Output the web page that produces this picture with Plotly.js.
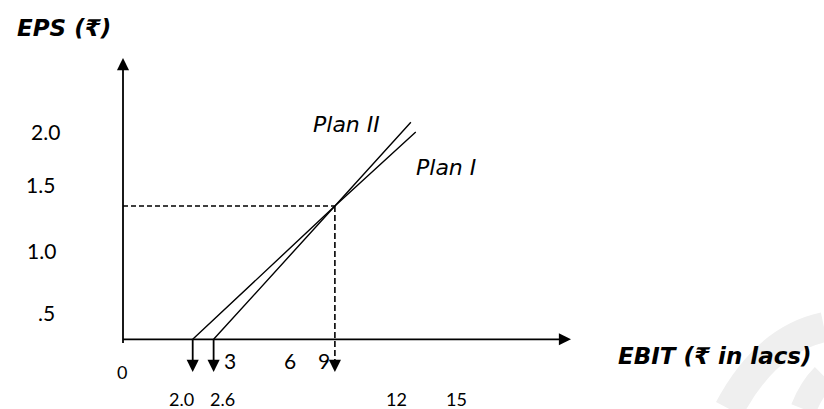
<!DOCTYPE html>
<html><head><meta charset="utf-8">
<script src="https://cdn.plot.ly/plotly-3.0.1.min.js"></script>
<style>html,body{margin:0;padding:0;background:#fff}#chart{width:824px;height:409px}</style>
</head><body><div id="chart"></div>
<script>
// ---- data ----
const planII_ebit = [2.0, 6.08, 8.26];
const planII_eps  = [0.0, 1.35, 2.20];
const planI_ebit  = [2.6, 6.08, 8.40];
const planI_eps   = [0.0, 1.35, 2.10];
const indiffEbit = 6.08;
const indiffEps  = 1.35;
const yTickLabels = ['2.0', '1.5', '1.0', '.5'];
const xTickLabelsTop = ['3', '6', '9'];
const xTickLabelsBottom = ['2.0', '2.6', '12', '15'];
const originLabel = '0';
const yAxisTitle = 'EPS (₹)';
const xAxisTitle = 'EBIT (₹ in lacs)';
const planLabels = ['Plan II', 'Plan I'];

// ---- layout geometry ----
const W = 824, H = 409;
const X0 = 123, KX = 34.85, Y0 = 339.3, KY = 98.7;
const px2x = p => (p - X0) / KX;
const py2y = p => (Y0 - p) / KY;
const xr = [px2x(0), px2x(W)];
const yr = [py2y(H), py2y(0)];

const yTickPos = [[62, 131], [57, 184.5], [58, 250], [57, 312.5]];
const xTopPos = [[230, 360.5], [289.5, 360.5], [324, 360.5]];
const xBotPos = [[181, 398.5], [222.5, 398.5], [396.5, 398.5], [456.5, 398.5]];

const black = '#000';
const lineT = (x, y, w, dash) => ({type: 'scatter', mode: 'lines', x: x, y: y,
  line: {color: black, width: w, dash: dash || 'solid'}, hoverinfo: 'skip', showlegend: false});

const arrowBase = py2y(364);
const traces = [
  lineT([0, 0], [py2y(343), py2y(64)], 1.8),
  lineT([0, px2x(565)], [0, 0], 1.8),
  lineT(planII_ebit, planII_eps, 1.4),
  lineT(planI_ebit, planI_eps, 1.4),
  lineT([0, indiffEbit], [indiffEps, indiffEps], 1.4, '5px,3px'),
  lineT([indiffEbit, indiffEbit], [indiffEps, arrowBase], 1.6, '6px,3px'),
  lineT([planII_ebit[0], planII_ebit[0]], [0, arrowBase], 1.8),
  lineT([planI_ebit[0], planI_ebit[0]], [0, arrowBase], 1.8)
];

const head = (x, y, ax, ay) => ({x: x, y: y, xref: 'x', yref: 'y', ax: ax, ay: ay,
  text: '', showarrow: true, arrowhead: 2, arrowsize: 1.35, arrowwidth: 1.8,
  arrowcolor: black, standoff: 0});
const pxTxt = (t, px, py, size, anchor, opts) => Object.assign({
  text: t, xref: 'paper', yref: 'paper', x: px / W, y: 1 - py / H,
  xanchor: anchor || 'center', yanchor: 'middle', showarrow: false,
  font: {family: 'Lato, "Noto Sans", sans-serif', size: size, color: black}
}, opts || {});
const hand = (size, bold) => ({font: {family: '"DejaVu Sans", sans-serif', size: size,
  color: black, style: 'italic', weight: bold ? 'bold' : 'normal'}});

const ann = [
  head(0, py2y(58), 0, 12),
  head(px2x(571), 0, -12, 0),
  head(planII_ebit[0], py2y(372), 0, -12),
  head(planI_ebit[0], py2y(372), 0, -12),
  head(indiffEbit, py2y(372), 0, -12),
  pxTxt(yAxisTitle, 15, 28, 23, 'left', hand(23, true)),
  pxTxt(xAxisTitle, 616, 356, 23, 'left', hand(23, true)),
  pxTxt(planLabels[0], 311, 124, 22, 'left', hand(22, false)),
  pxTxt(planLabels[1], 414, 167, 22, 'left', hand(22, false)),
  pxTxt(originLabel, 122, 371.5, 18)
];
yTickLabels.forEach((t, i) => ann.push(pxTxt(t, yTickPos[i][0], yTickPos[i][1], 21, 'right')));
xTickLabelsTop.forEach((t, i) => ann.push(pxTxt(t, xTopPos[i][0], xTopPos[i][1], 21)));
xTickLabelsBottom.forEach((t, i) => ann.push(pxTxt(t, xBotPos[i][0], xBotPos[i][1], 18)));

const layout = {
  width: W, height: H, margin: {l: 0, r: 0, t: 0, b: 0},
  paper_bgcolor: '#fff', plot_bgcolor: '#fff',
  xaxis: {range: xr, visible: false, fixedrange: true},
  yaxis: {range: yr, visible: false, fixedrange: true},
  shapes: [
    {type: 'path', xref: 'paper', yref: 'paper', layer: 'below',
     path: 'M 0.885,0 Q 0.93,0.17 1.0,0.2', line: {color: '#efefef', width: 30}},
    {type: 'path', xref: 'paper', yref: 'paper', layer: 'below',
     path: 'M 0.975,0 Q 0.985,0.05 1.0,0.08', line: {color: '#efefef', width: 26}}
  ],
  annotations: ann,
  showlegend: false
};
Plotly.newPlot('chart', traces, layout, {displayModeBar: false, staticPlot: true});
</script></body></html>
